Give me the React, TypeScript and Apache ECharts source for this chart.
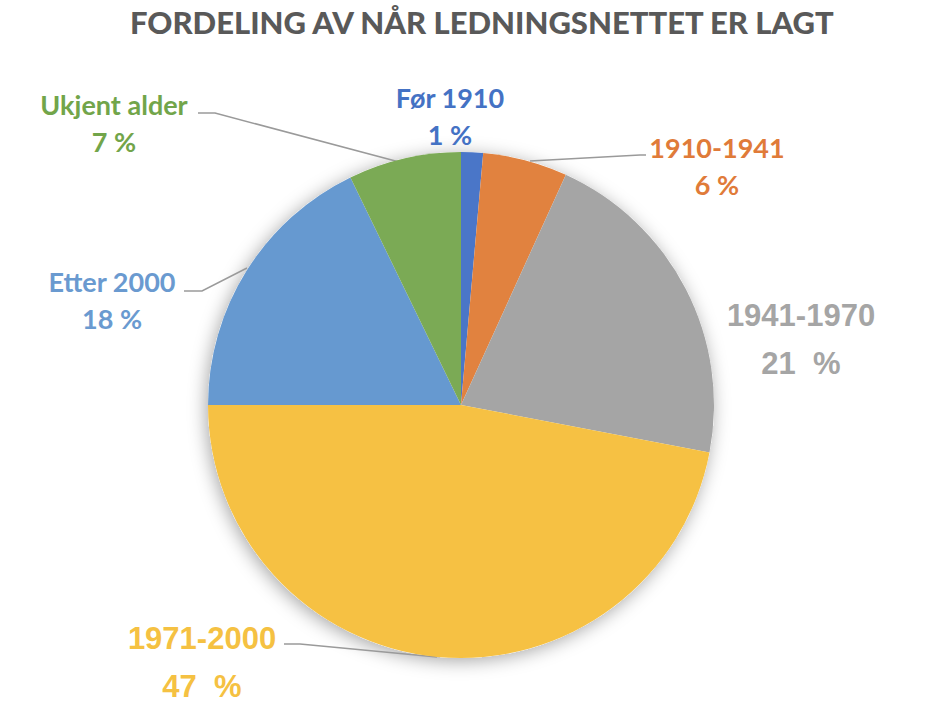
import React, { useEffect, useRef } from "react";
import * as echarts from "echarts";

const TITLE = "FORDELING AV NÅR LEDNINGSNETTET ER LAGT";
const categories = ["Før 1910", "1910-1941", "1941-1970", "1971-2000", "Etter 2000", "Ukjent alder"];
const values = [1.4, 5.4, 21.2, 47.0, 17.8, 7.2];
const pctLabels = ["1 %", "6 %", "21  %", "47  %", "18 %", "7 %"];
const sliceColors = ["#4A76C8", "#E1823F", "#A5A5A5", "#F6C143", "#6699D0", "#7BAA55"];
const labelColors = ["#4472C4", "#E07B39", "#A5A5A5", "#F5C142", "#6A9AD0", "#72A54A"];

// label placement (centers) and leader lines
const labelPos: Record<string, [number, number]> = {
  "Før 1910": [450, 116],
  "1910-1941": [717, 166],
  "1941-1970": [801, 339],
  "1971-2000": [202, 662],
  "Etter 2000": [112, 300],
  "Ukjent alder": [114, 123],
};
const leaderLines: Record<string, number[][] | null> = {
  "Før 1910": null,
  "1910-1941": [[530, 161], [640, 155], [646, 155]],
  "1941-1970": null,
  "1971-2000": [[437, 657], [300, 644], [284, 644]],
  "Etter 2000": [[247, 268], [202, 291], [184, 291]],
  "Ukjent alder": [[403, 163], [215, 113], [198, 113]],
};
const arialLabels = ["1941-1970", "1971-2000"];

export default function App() {
  const ref = useRef<HTMLDivElement>(null);
  useEffect(() => {
    document.body.style.margin = "0";
    const chart = echarts.init(ref.current!, null, { renderer: "svg" });
    const data = categories.map((name, i) => {
      const arial = arialLabels.includes(name);
      const ff = arial ? "Liberation Sans" : "Lato";
      const fs = arial ? 31 : 27;
      const lh = arial ? 48 : 37;
      return {
        name,
        value: values[i],
        itemStyle: { color: sliceColors[i] },
        label: {
          formatter: `{n|${name}}\n{p|${pctLabels[i]}}`,
          rich: {
            n: { fontFamily: ff, fontWeight: "bold", fontSize: fs, color: labelColors[i], lineHeight: lh, align: "center" },
            p: { fontFamily: ff, fontWeight: "bold", fontSize: fs, color: labelColors[i], lineHeight: lh, align: "center" },
          },
        },
        labelLine: { show: !!leaderLines[name] },
      };
    });
    chart.setOption({
      animation: false,
      title: {
        text: TITLE,
        left: 125,
        top: 1,
        textStyle: { fontFamily: "Lato", fontWeight: 900, fontSize: 31, color: "#595959" },
      },
      series: [
        {
          type: "pie",
          silent: true,
          center: [461, 405],
          radius: [0, 253],
          z: 1,
          label: { show: false },
          labelLine: { show: false },
          itemStyle: { color: "#ffffff", shadowBlur: 18, shadowColor: "rgba(0,0,0,0.35)", shadowOffsetX: -2, shadowOffsetY: 3 },
          data: [{ name: "bg", value: 1 }],
        },
        {
          type: "pie",
          z: 2,
          center: [461, 405],
          radius: [0, 253],
          startAngle: 90,
          clockwise: true,
          label: { show: true, position: "outside" },
          labelLine: { show: true, lineStyle: { color: "#9a9a9a", width: 1.5 } },
          itemStyle: { borderWidth: 0 },
          labelLayout: (p: any) => {
            const name = categories[p.dataIndex];
            const [cx, cy] = labelPos[name];
            const out: any = {
              x: cx,
              y: cy,
              align: "center",
              verticalAlign: "middle",
            };
            if (leaderLines[name]) out.labelLinePoints = leaderLines[name];
            return out;
          },
          data,
        },
      ],
    });
    return () => chart.dispose();
  }, []);
  return <div ref={ref} style={{ width: 926, height: 722 }} />;
}
